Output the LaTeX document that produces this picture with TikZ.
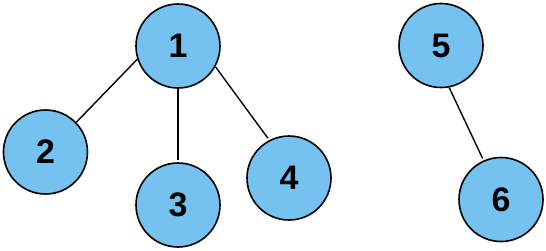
\documentclass[tikz,border=0pt]{standalone}
\usepackage{fontspec}
\setmainfont{Liberation Sans}
\definecolor{nodefill}{HTML}{75C2F0}
\begin{document}
\begin{tikzpicture}[x=1pt,y=-1pt,
  vert/.style={circle,draw=black,line width=1.6pt,fill=nodefill,minimum size=84pt,inner sep=0pt,font=\fontsize{34}{34}\selectfont\bfseries},
  edge/.style={line width=1.4pt}]
\useasboundingbox (0,0) rectangle (546,250);
\node[vert] (n1) at (178,46) {1};
\node[vert] (n2) at (45.5,152) {2};
\node[vert] (n3) at (178,205) {3};
\node[vert] (n4) at (289,178) {4};
\node[vert] (n5) at (441,45.5) {5};
\node[vert] (n6) at (501,199.5) {6};
\draw[edge] (n1.198) -- (n2.44);
\draw[edge,shorten >=2pt] (n1) -- (n3);
\draw[edge] (n1.-29) -- ([shift={(-1,-2)}]n4.118);
\draw[edge] (n5.-79) -- ([shift={(-1,-2)}]n6.114);
\end{tikzpicture}
\end{document}
